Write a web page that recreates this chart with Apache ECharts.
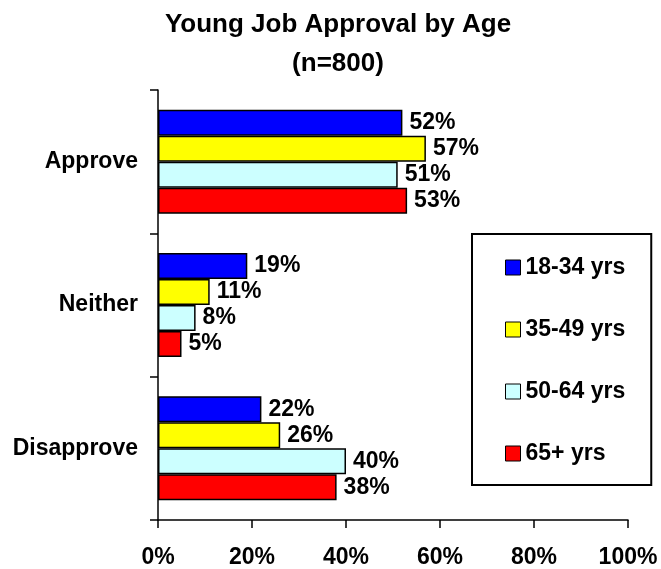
<!DOCTYPE html>
<html>
<head>
<meta charset="utf-8">
<script src="https://cdn.jsdelivr.net/npm/echarts@6/dist/echarts.min.js"></script>
<style>
  html, body { margin: 0; padding: 0; background: #fff; }
  #chart { width: 661px; height: 569px; }
</style>
</head>
<body>
<div id="chart"></div>
<script>
// chart data
const categories = ["Approve", "Neither", "Disapprove"];
const seriesNames = ["18-34 yrs", "35-49 yrs", "50-64 yrs", "65+ yrs"];
const seriesColors = ["#0000ff", "#ffff00", "#ccffff", "#ff0000"];
const age18to34 = [52, 19, 22];
const age35to49 = [57, 11, 26];
const age50to64 = [51, 8, 40];
const age65plus = [53, 5, 38];
const xTicks = [0, 20, 40, 60, 80, 100];

const values = [age18to34, age35to49, age50to64, age65plus];
const font = "'Liberation Sans', Arial, sans-serif";

let chart = echarts.init(document.getElementById("chart"));

let series = seriesNames.map((name, i) => ({
    name: name,
    type: "bar",
    data: values[i],
    barWidth: 26,
    barGap: "0%",
    itemStyle: { color: seriesColors[i], borderColor: "#000", borderWidth: 1.5 },
    label: {
        show: true,
        position: "right",
        distance: 7,
        formatter: "{c}%",
        color: "#000",
        fontFamily: font,
        fontWeight: "bold",
        fontSize: 23
    }
}));

let option = {
    animation: false,
    backgroundColor: "#fff",
    title: {
        text: "Young Job Approval by Age\n(n=800)",
        left: 333,
        textAlign: "center",
        top: 0,
        textStyle: {
            fontFamily: font,
            fontWeight: "bold",
            fontSize: 26,
            lineHeight: 39,
            color: "#000"
        }
    },
    legend: {
        orient: "vertical",
        left: 472,
        top: 234,
        padding: [22, 26, 20, 33],
        itemGap: 39,
        itemWidth: 15,
        itemHeight: 15,
        borderColor: "#000",
        borderWidth: 2,
        icon: "rect",
        itemStyle: { borderColor: "#000", borderWidth: 1 },
        textStyle: {
            fontFamily: font,
            fontWeight: "bold",
            fontSize: 23,
            color: "#000"
        },
        data: seriesNames
    },
    grid: { left: 158, right: 33, top: 90, bottom: 49 },
    xAxis: {
        type: "value",
        min: 0,
        max: 100,
        interval: 20,
        axisLine: { show: true, lineStyle: { color: "#000", width: 1.5 } },
        axisTick: { show: true, length: 8, lineStyle: { color: "#000", width: 1.5 } },
        splitLine: { show: false },
        axisLabel: {
            formatter: v => xTicks.includes(v) ? v + "%" : "",
            margin: 26,
            color: "#000",
            fontFamily: font,
            fontWeight: "bold",
            fontSize: 23
        }
    },
    yAxis: {
        type: "category",
        data: categories,
        inverse: true,
        axisLine: { show: true, lineStyle: { color: "#000", width: 1.5 } },
        axisTick: { show: true, length: 8, lineStyle: { color: "#000", width: 1.5 } },
        axisLabel: {
            margin: 20,
            color: "#000",
            fontFamily: font,
            fontWeight: "bold",
            fontSize: 23
        }
    },
    series: series
};

chart.setOption(option);
</script>
</body>
</html>
